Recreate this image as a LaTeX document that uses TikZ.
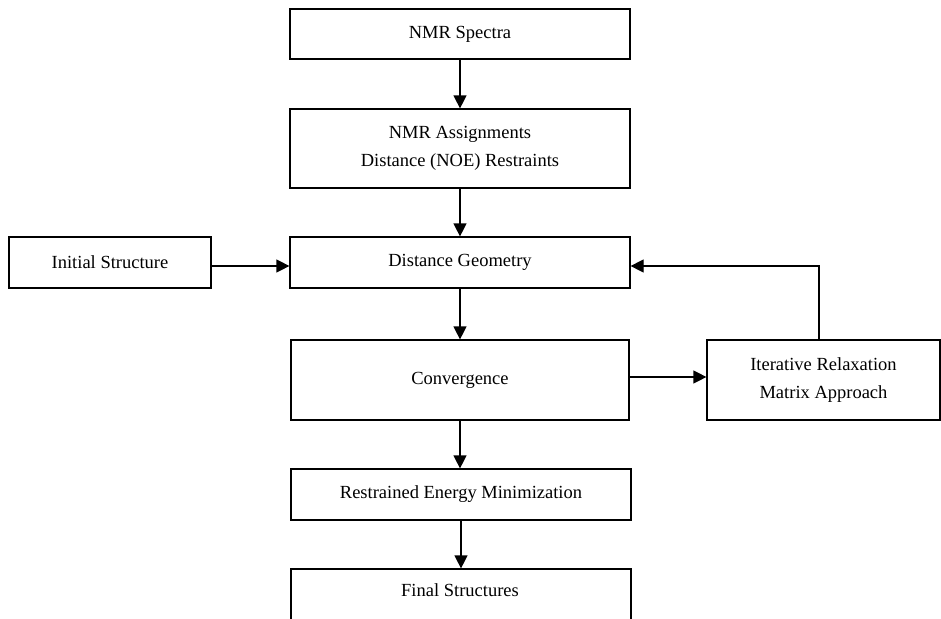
\documentclass[tikz,border=0pt]{standalone}
\usepackage{fontspec}
\setmainfont{Liberation Serif}
\usetikzlibrary{arrows.meta}
\begin{document}
\begin{tikzpicture}[x=1pt,y=-1pt,
  box/.style={draw=black,line width=1.2pt,minimum width=340pt,inner sep=0pt,align=center,
    font=\fontsize{18.5}{27.5}\selectfont},
  arr/.style={line width=1.2pt,-{Triangle[length=13pt,width=13pt]}},
  conn/.style={line width=1.2pt}]
\clip (0,0) rectangle (941,618);
\fill[white] (0,0) rectangle (941,618);
\node[box,minimum height=50pt] (spectra) at (460,34) {NMR Spectra};
\node[box,minimum height=79pt] (assign) at (460,148.5) {NMR Assignments\\Distance (NOE) Restraints};
\node[box,minimum width=202pt,minimum height=51pt] (init) at (110,262.5) {Initial Structure};
\node[box,minimum height=51pt] (dg) at (460,262.5) {Distance Geometry};
\node[box,minimum width=338pt,minimum height=80pt] (conv) at (460,380) {Convergence};
\node[box,minimum width=233pt,minimum height=80pt] (irm) at (823.5,380) {Iterative Relaxation\\Matrix Approach};
\node[box,minimum height=51pt] (rem) at (461,494.5) {Restrained Energy Minimization};
\node[box,minimum height=90pt] (final) at (461,614) {};
\node[font=\fontsize{18.5}{27.5}\selectfont,inner sep=0pt] (finaltext) at (460,590) {Final Structures};
\draw[arr] (spectra) -- (assign);
\draw[arr] (assign) -- (dg);
\draw[arr] (dg) -- (conv);
\draw[arr] (conv.south) -- (conv.south |- rem.north);
\draw[arr] (rem) -- (final.north -| rem.south);
\draw[arr] ([yshift=-3.5pt]init.east) -- ([yshift=-3.5pt]dg.west);
\draw[arr] ([yshift=3pt]conv.east) -- ([yshift=3pt]irm.west);
\draw[arr] ([xshift=-4.5pt]irm.north) |- ([yshift=-3.5pt]dg.east);
\end{tikzpicture}
\end{document}
